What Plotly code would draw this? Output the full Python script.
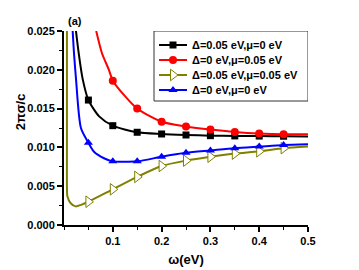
import plotly.graph_objects as go

# ---- data ----
names = ["Δ=0.05 eV,μ=0 eV", "Δ=0 eV,μ=0.05 eV", "Δ=0.05 eV,μ=0.05 eV", "Δ=0 eV,μ=0 eV"]

black_x = [0.0245, 0.030, 0.038, 0.05, 0.072, 0.1, 0.15, 0.2, 0.25, 0.3, 0.35, 0.4, 0.45, 0.5]
black_y = [0.0250, 0.0222, 0.0189, 0.0161, 0.0140, 0.0128, 0.01195, 0.01173, 0.0116, 0.01151, 0.01148, 0.01146, 0.01144, 0.01142]
black_mx = [0.05, 0.1, 0.15, 0.2, 0.25, 0.3, 0.35, 0.4, 0.45]
black_my = [0.0161, 0.0128, 0.01195, 0.01173, 0.0116, 0.01151, 0.01148, 0.01146, 0.01144]

red_x = [0.066, 0.078, 0.092, 0.1, 0.125, 0.15, 0.2, 0.25, 0.3, 0.35, 0.4, 0.45, 0.5]
red_y = [0.0250, 0.0221, 0.0200, 0.0186, 0.0166, 0.0150, 0.0133, 0.0127, 0.0123, 0.0120, 0.0118, 0.0117, 0.0117]
red_mx = [0.1, 0.15, 0.2, 0.25, 0.3, 0.35, 0.4, 0.45]
red_my = [0.0186, 0.0150, 0.0133, 0.0127, 0.0123, 0.0120, 0.0118, 0.0117]

olive_x = [0.0060, 0.0060, 0.0061, 0.0069, 0.0137, 0.024, 0.035, 0.05, 0.1, 0.15, 0.2, 0.25, 0.3, 0.35, 0.4, 0.45, 0.5]
olive_y = [0.0250, 0.0100, 0.0046, 0.0037, 0.0028, 0.0024, 0.0026, 0.0030, 0.0046, 0.0062, 0.0076, 0.0083, 0.0088, 0.0092, 0.0095, 0.0099, 0.0101]
olive_mx = [0.05, 0.1, 0.15, 0.2, 0.25, 0.3, 0.35, 0.4, 0.45]
olive_my = [0.0030, 0.0046, 0.0062, 0.0076, 0.0083, 0.0088, 0.0092, 0.0095, 0.0099]

blue_x = [0.0178, 0.0204, 0.0245, 0.0347, 0.05, 0.062, 0.082, 0.1, 0.15, 0.2, 0.25, 0.3, 0.35, 0.4, 0.45, 0.5]
blue_y = [0.0250, 0.0222, 0.0189, 0.0125, 0.0106, 0.0094, 0.0086, 0.0082, 0.0082, 0.0088, 0.0093, 0.0096, 0.0099, 0.0101, 0.0103, 0.0104]
blue_mx = [0.05, 0.1, 0.15, 0.2, 0.25, 0.3, 0.35, 0.4, 0.45]
blue_my = [0.0106, 0.0082, 0.0082, 0.0088, 0.0093, 0.0096, 0.0099, 0.0101, 0.0103]

x_ticks = [0.1, 0.2, 0.3, 0.4, 0.5]
y_ticks = [0.000, 0.005, 0.010, 0.015, 0.020, 0.025]

FONT = "Liberation Sans, Arial, sans-serif"

series = [
    (names[0], black_x, black_y, black_mx, black_my, "#000000", dict(symbol="square", size=7, color="#000000")),
    (names[1], red_x, red_y, red_mx, red_my, "#ff0000", dict(symbol="circle", size=8, color="#ff0000")),
    (names[2], olive_x, olive_y, olive_mx, olive_my, "#808000",
     dict(symbol="triangle-right", size=10, color="#ffffff", line=dict(color="#808000", width=1))),
    (names[3], blue_x, blue_y, blue_mx, blue_my, "#0000ff", dict(symbol="triangle-up", size=8, color="#0000ff")),
]

fig = go.Figure()
for name, lx, ly, mx, my, col, mk in series:
    fig.add_trace(go.Scatter(x=lx, y=ly, mode="lines", line=dict(color=col, width=2, shape="spline", smoothing=0.7),
                             showlegend=False, hoverinfo="skip"))
    fig.add_trace(go.Scatter(x=mx, y=my, mode="markers", marker=mk, showlegend=False, hoverinfo="skip"))

# ---- hand-built legend on a pixel-scaled overlay axis (plot area is 244 x 194 px) ----
PW, PH = 244, 194
box = dict(x0=90, x1=244, y0=0, y1=70)
row_y = [14, 29, 44, 59]
line_x0, line_x1, mark_x, text_x = 95, 123, 109, 126

annotations = []
for (name, lx, ly, mx, my, col, mk), ry in zip(series, row_y):
    fig.add_trace(go.Scatter(x=[line_x0, line_x1], y=[ry, ry], xaxis="x2", yaxis="y2", mode="lines",
                             line=dict(color=col, width=2), showlegend=False, hoverinfo="skip"))
    fig.add_trace(go.Scatter(x=[mark_x], y=[ry], xaxis="x2", yaxis="y2", mode="markers",
                             marker=mk, showlegend=False, hoverinfo="skip"))
    annotations.append(dict(text=name, x=text_x, y=ry, xref="x2", yref="y2", xanchor="left", yanchor="middle",
                            showarrow=False, font=dict(family=FONT, size=11, color="black", weight="bold")))

axis_common = dict(
    showline=True, linecolor="black", linewidth=2, showgrid=False, zeroline=False,
    ticks="outside", ticklen=5, tickwidth=1.5, tickcolor="black",
    tickfont=dict(family=FONT, size=11, color="black", weight="bold"),
)

annotations += [
    dict(text="(a)", x=0.0, y=1.0, xref="paper", yref="paper", xanchor="left", yanchor="bottom",
         showarrow=False, yshift=2, xshift=2,
         font=dict(family=FONT, size=11, color="black", weight="bold")),
    dict(text="2πσ/c", x=-0.18, y=0.582, xref="paper", yref="paper", xanchor="center", yanchor="middle",
         textangle=-90, showarrow=False,
         font=dict(family=FONT, size=13, color="black", weight="bold")),
]

fig.update_layout(
    width=359, height=270,
    margin=dict(l=64, r=51, t=31, b=45, autoexpand=False),
    paper_bgcolor="white", plot_bgcolor="white",
    font=dict(family=FONT, color="black"),
    showlegend=False,
    xaxis=dict(range=[0, 0.5], tickvals=x_ticks, ticktext=[f"{v:.1f}" for v in x_ticks],
               minor=dict(ticks="outside", ticklen=3, tickwidth=1, tickcolor="black", dtick=0.05, tick0=0),
               title=dict(text="ω(eV)", font=dict(family=FONT, size=13, color="black", weight="bold"), standoff=9),
               **axis_common),
    yaxis=dict(range=[0, 0.025], tickvals=y_ticks, ticktext=[f"{v:.3f}" for v in y_ticks],
               minor=dict(ticks="outside", ticklen=3, tickwidth=1, tickcolor="black", dtick=0.0025, tick0=0),
               **axis_common),
    xaxis2=dict(overlaying="x", range=[0, PW], visible=False, fixedrange=True),
    yaxis2=dict(overlaying="y", range=[PH, 0], visible=False, fixedrange=True),
    shapes=[dict(type="rect", xref="x2", yref="y2", layer="below", fillcolor="white",
                 line=dict(color="#333333", width=1), **box)],
    annotations=annotations,
)

fig.write_html("out.html", config={"displayModeBar": False},
               post_script="document.body.style.margin='0';")
